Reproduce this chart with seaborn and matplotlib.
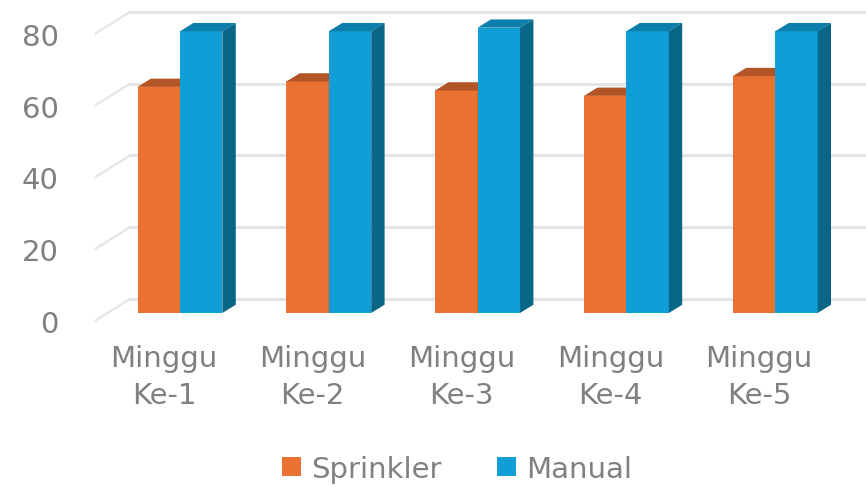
import pandas as pd
import matplotlib.pyplot as plt
import matplotlib.transforms as mtransforms
from matplotlib.patches import Polygon, Patch
import seaborn as sns

# data
weeks = ["Minggu\nKe-1", "Minggu\nKe-2", "Minggu\nKe-3", "Minggu\nKe-4", "Minggu\nKe-5"]
sprinkler = [63, 64.5, 62, 60.5, 66]
manual = [78.5, 78.5, 79.5, 78.5, 78.5]
methods = ["Sprinkler", "Manual"]
yticks = [0, 20, 40, 60, 80]

front = {"Sprinkler": "#E97132", "Manual": "#0F9ED5"}
top = {"Sprinkler": "#B25426", "Manual": "#0B7EAB"}
side = {"Sprinkler": "#A94E1E", "Manual": "#0A6687"}
grid_c = "#E5E5E5"
text_c = "#808080"

df = pd.DataFrame({
    "week": weeks * 2,
    "method": ["Sprinkler"] * 5 + ["Manual"] * 5,
    "value": sprinkler + manual,
})

sns.set_theme(style="white")
plt.rcParams["font.family"] = ["DejaVu Sans"]

fig = plt.figure(figsize=(8.66, 4.89), dpi=100)
ax = fig.add_axes([95 / 866, 159 / 489, 771 / 866, 320 / 489])

sns.barplot(data=df, x="week", y="value", hue="method", hue_order=methods,
            palette=front, width=0.57, saturation=1, legend=False, ax=ax)

x_left, x_right = -0.571, 4.61
ax.set_xlim(x_left, x_right)
ax.set_ylim(-4.46, 84.7)

# 3d depth offsets (data units)
dx, dy = 0.09, 2.3
wall_dy = 3.9
wall_x = -0.336

# back wall gridlines + floor diagonals
for v in yticks:
    ax.plot([wall_x, x_right], [v + wall_dy, v + wall_dy], color=grid_c, lw=2.2, zorder=0)
    ax.plot([x_left, wall_x], [v - 2.2, v + wall_dy], color=grid_c, lw=1.6, zorder=0)

# extrude bars
for i, m in enumerate(methods):
    for bar in ax.containers[i]:
        bar.set_zorder(3 + i)
        bar.set_linewidth(0)
        x0 = bar.get_x()
        x1 = x0 + bar.get_width()
        h = bar.get_height()
        ax.add_patch(Polygon([(x0, h), (x1, h), (x1 + dx, h + dy), (x0 + dx, h + dy)],
                             closed=True, color=top[m], lw=0, zorder=3 + i))
        ax.add_patch(Polygon([(x1, 0), (x1 + dx, dy), (x1 + dx, h + dy), (x1, h)],
                             closed=True, color=side[m], lw=0, zorder=3 + i))

ax.set_yticks([v - 2.2 for v in yticks])
ax.set_yticklabels([str(v) for v in yticks])
ax.set_xlabel("")
ax.set_ylabel("")
ax.tick_params(axis="y", length=0, pad=26, labelsize=21, labelcolor=text_c)
ax.tick_params(axis="x", length=0, pad=11, labelsize=21, labelcolor=text_c)
shift = mtransforms.ScaledTranslation(-16 / 100, 0, fig.dpi_scale_trans)
for lbl in ax.get_xticklabels():
    lbl.set_linespacing(1.4)
    lbl.set_transform(lbl.get_transform() + shift)
sns.despine(ax=ax, left=True, bottom=True)

handles = [Patch(facecolor=front[m], edgecolor="none", label=m) for m in methods]
fig.legend(handles=handles, loc="center", bbox_to_anchor=(0.528, 19 / 489), ncol=2,
           frameon=False, fontsize=21, labelcolor=text_c, handlelength=0.65,
           handleheight=0.65, handletextpad=0.35, columnspacing=1.9)

fig.savefig("out.png", dpi=100)
